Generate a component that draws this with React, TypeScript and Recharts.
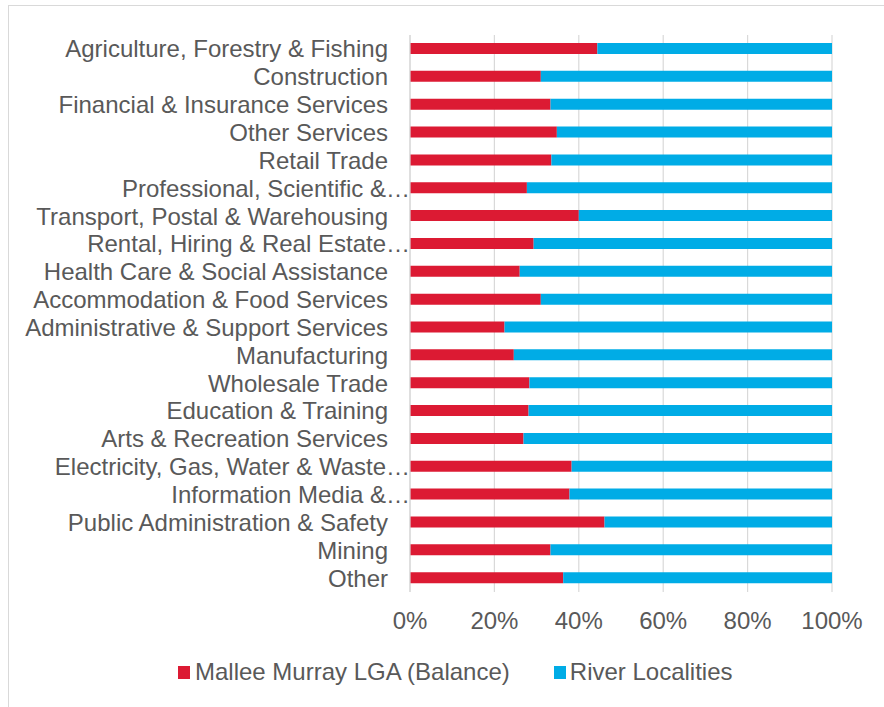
import React from "react";
import { BarChart, Bar, XAxis, YAxis, CartesianGrid } from "recharts";

const industries = [
  "Agriculture, Forestry & Fishing",
  "Construction",
  "Financial & Insurance Services",
  "Other Services",
  "Retail Trade",
  "Professional, Scientific &…",
  "Transport, Postal & Warehousing",
  "Rental, Hiring & Real Estate…",
  "Health Care & Social Assistance",
  "Accommodation & Food Services",
  "Administrative & Support Services",
  "Manufacturing",
  "Wholesale Trade",
  "Education & Training",
  "Arts & Recreation Services",
  "Electricity, Gas, Water & Waste…",
  "Information Media &…",
  "Public Administration & Safety",
  "Mining",
  "Other",
];

// share of workers (%)
const malleeMurray = [44.4, 31.0, 33.3, 34.8, 33.5, 27.7, 40.0, 29.3, 26.0, 31.0, 22.4, 24.6, 28.3, 28.1, 26.9, 38.3, 37.8, 46.1, 33.3, 36.3];
const riverLocalities = [55.6, 69.0, 66.7, 65.2, 66.5, 72.3, 60.0, 70.7, 74.0, 69.0, 77.6, 75.4, 71.7, 71.9, 73.1, 61.7, 62.2, 53.9, 66.7, 63.7];

const xTicks = [0, 0.2, 0.4, 0.6, 0.8, 1];

const RED = "#DC1A33";
const BLUE = "#00ACE6";
const TEXT = "#595959";
const FONT = "'Liberation Sans', Arial, sans-serif";

const data = industries.map((name, i) => ({
  name,
  mallee: malleeMurray[i],
  river: riverLocalities[i],
}));

// truncated labels spill their ellipsis towards the axis, like in Excel
function CategoryTick(props: any) {
  const { x, y, payload } = props;
  const label: string = payload.value;
  const shift = label.endsWith("…") ? 22 : 0;
  return (
    <text
      x={x + shift}
      y={y}
      dy="0.355em"
      textAnchor="end"
      fontSize={24}
      fill={TEXT}
      fontFamily={FONT}
    >
      {label}
    </text>
  );
}

export default function App() {
  return (
    <div style={{ position: "absolute", left: 0, top: 0, width: 884, height: 707, background: "#fff", overflow: "hidden", fontFamily: FONT }}>
      {/* chart frame */}
      <div style={{ position: "absolute", left: 8, top: 5, width: 900, height: 720, border: "1.5px solid #d9d9d9", boxSizing: "border-box" }} />
      <BarChart
        width={884}
        height={707}
        data={data}
        layout="vertical"
        stackOffset="expand"
        barSize={11}
        margin={{ top: 35, right: 52, left: 0, bottom: 65 }}
        style={{ position: "absolute", left: 0, top: 0 }}
      >
        <CartesianGrid horizontal={false} stroke="#d9d9d9" strokeWidth={1.2} />
        <XAxis
          type="number"
          domain={[0, 1]}
          ticks={xTicks}
          tickFormatter={(v) => `${Math.round(v * 100)}%`}
          axisLine={false}
          tickLine={false}
          tickSize={0}
          tickMargin={20}
          height={50}
          interval={0}
          tick={{ fontSize: 24, fill: TEXT, fontFamily: FONT }}
        />
        <YAxis
          type="category"
          dataKey="name"
          width={410}
          interval={0}
          axisLine={{ stroke: "#d9d9d9", strokeWidth: 1.2 }}
          tickLine={false}
          tickSize={0}
          tickMargin={22}
          tick={<CategoryTick />}
        />
        <Bar dataKey="mallee" stackId="a" fill={RED} isAnimationActive={false} />
        <Bar dataKey="river" stackId="a" fill={BLUE} isAnimationActive={false} />
      </BarChart>
      {/* legend */}
      <div style={{ position: "absolute", left: 178, top: 658, display: "flex", alignItems: "center", fontSize: 24, color: TEXT, whiteSpace: "nowrap" }}>
        <span style={{ display: "inline-block", width: 12, height: 13, background: RED, marginRight: 5 }} />
        <span>Mallee Murray LGA (Balance)</span>
        <span style={{ display: "inline-block", width: 12, height: 13, background: BLUE, marginLeft: 44, marginRight: 4 }} />
        <span>River Localities</span>
      </div>
    </div>
  );
}
